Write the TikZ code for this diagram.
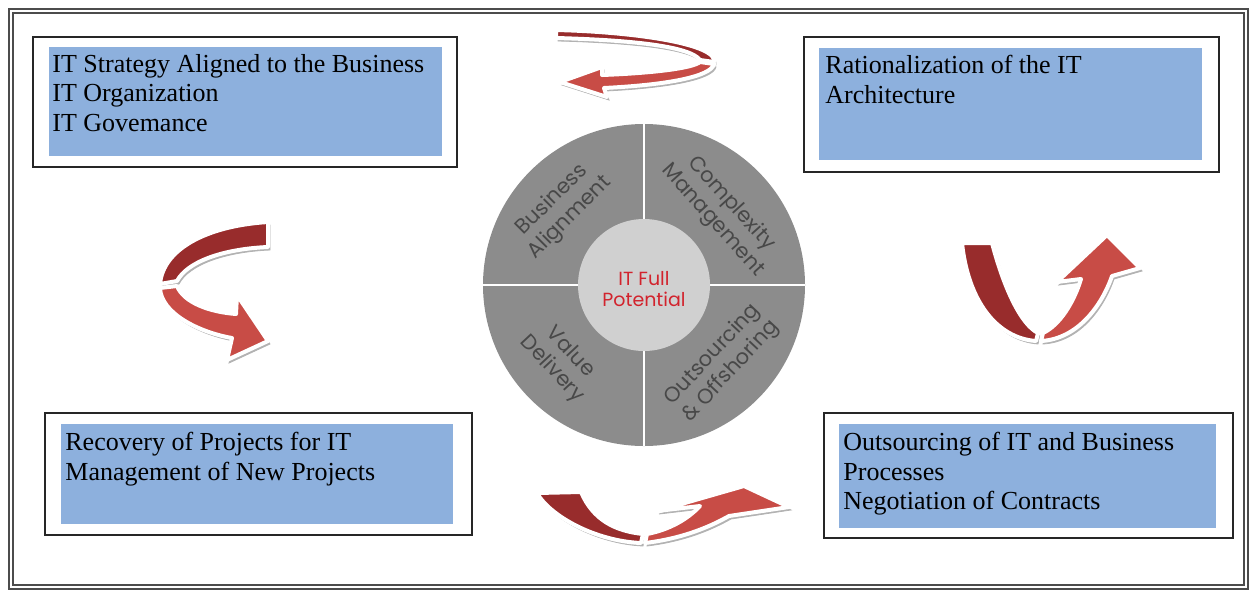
\documentclass[tikz,border=0pt]{standalone}
\usepackage{fontspec}
\setmainfont{Liberation Serif}
\newfontfamily\wheelfont{Poppins}
\definecolor{boxblue}{RGB}{141,176,221}
\definecolor{ringgray}{RGB}{140,140,140}
\definecolor{hubgray}{RGB}{208,208,208}
\definecolor{labelgray}{RGB}{72,72,72}
\definecolor{hubred}{RGB}{210,35,45}
\definecolor{ribbondark}{RGB}{152,44,44}
\definecolor{ribbonlight}{RGB}{200,76,70}
\begin{document}
\begin{tikzpicture}[x=0.5pt, y=-0.5pt, line join=miter,
	framebox/.style={draw=black!85, line width=1pt},
	bluebox/.style={fill=boxblue},
	boxtext/.style={font=\fontsize{13}{14.7}\selectfont, align=left, inner sep=0pt, anchor=north west},
	wheeltext/.style={font=\wheelfont\fontsize{10.5}{12.5}\selectfont, text=labelgray, align=center, inner sep=0pt},
	ribbon/.style={draw=white, line width=2pt, line join=round, preaction={fill=black!30, draw=black!30, transform canvas={shift={(2,3)}}}}]
	
	\useasboundingbox (0,0) rectangle (1252,591);
	
	% Outer frame
	\draw[draw=black!70, line width=0.9pt, double=white, double distance=1.1pt] (11,11) rectangle (1246,587);
	
	% Box 1
	\draw[framebox] (33,37) rectangle (457,167);
	\fill[bluebox] (49,47) rectangle (442,156);
	\node[boxtext] (strategy) at (52,54) {IT Strategy Aligned to the Business\\IT Organization\\IT Govemance};
	
	% Box 2
	\draw[framebox] (804,37) rectangle (1219,172);
	\fill[bluebox] (819,48) rectangle (1202,160);
	\node[boxtext] (architecture) at (825,55) {Rationalization of the IT\\Architecture};
	
	% Box 3
	\draw[framebox] (45,413) rectangle (472,535);
	\fill[bluebox] (61,424) rectangle (453,524);
	\node[boxtext] (projects) at (65,432) {Recovery of Projects for IT\\Management of New Projects};
	
	% Box 4
	\draw[framebox] (824,413) rectangle (1233,538);
	\fill[bluebox] (839,424) rectangle (1216,528);
	\node[boxtext] (contracts) at (843,432) {Outsourcing of IT and Business\\Processes\\Negotiation of Contracts};
	
	% Wheel
	\node[circle, fill=ringgray, minimum size=161pt, inner sep=0pt] (wheel) at (644,285) {};
	\draw[white, line width=1.2pt] (wheel.north) -- (wheel.south);
	\draw[white, line width=1.2pt] (wheel.west) -- (wheel.east);
	\node[circle, fill=hubgray, minimum size=66pt, inner sep=0pt] (hub) at (wheel.center) {};
	\node[wheeltext, text=hubred, font=\wheelfont\fontsize{9.5}{10.5}\selectfont] (potential) at (644,289) {IT Full\\Potential};
	\node[wheeltext, rotate=45] (alignment) at (561,209) {Business\\Alignment};
	\node[wheeltext, rotate=-48] (complexity) at (722,212) {Complexity\\Management};
	\node[wheeltext, rotate=-47] (value) at (561,361) {Value\\Delivery};
	\node[wheeltext, rotate=47] (offshoring) at (722,363) {Outsourcing\\\& Offshoring};
	
	% Arrow top
	\path[ribbon, fill=ribbondark] (556,30) .. controls (640,32) and (718,45) .. (714,62) -- (700,60) .. controls (690,46) and (630,40) .. (556,38) -- cycle;
	\path[ribbon, fill=ribbonlight] (714,64) .. controls (711,77) and (665,85) .. (604,88) -- (607,97) -- (560,82) -- (602,67) -- (602,75) .. controls (655,73) and (693,68) .. (700,62) -- cycle;
	
	% Arrow left
	\path[ribbon, fill=ribbondark] (268,222) .. controls (205,226) and (163,250) .. (160,284) -- (177,281) .. controls (187,262) and (222,249) .. (268,247) -- cycle;
	\path[ribbon, fill=ribbonlight] (160,288) .. controls (161,313) and (198,332) .. (232,338) -- (227,360) -- (268,341) -- (237,295) -- (236,314) .. controls (210,312) and (184,303) .. (177,286) -- cycle;
	
	% Arrow right
	\path[ribbon, fill=ribbondark] (962,243) -- (992,243) .. controls (1005,292) and (1022,325) .. (1038,333) -- (1036,341) .. controls (996,338) and (968,300) .. (962,243) -- cycle;
	\path[ribbon, fill=ribbonlight] (1041,341) .. controls (1078,339) and (1102,305) .. (1112,276) -- (1140,268) -- (1107,235) -- (1057,282) -- (1081,279) .. controls (1074,302) and (1060,325) .. (1043,333) -- cycle;
	
	% Arrow bottom
	\path[ribbon, fill=ribbondark] (537,493) -- (581,492) .. controls (593,520) and (615,531) .. (643,534) -- (641,543) .. controls (595,541) and (550,516) .. (537,493) -- cycle;
	\path[ribbon, fill=ribbonlight] (645,543) .. controls (686,538) and (713,525) .. (729,516) -- (789,507) -- (744,486) -- (657,511) -- (700,506) .. controls (687,520) and (668,530) .. (647,534) -- cycle;
	
\end{tikzpicture}
\end{document}
